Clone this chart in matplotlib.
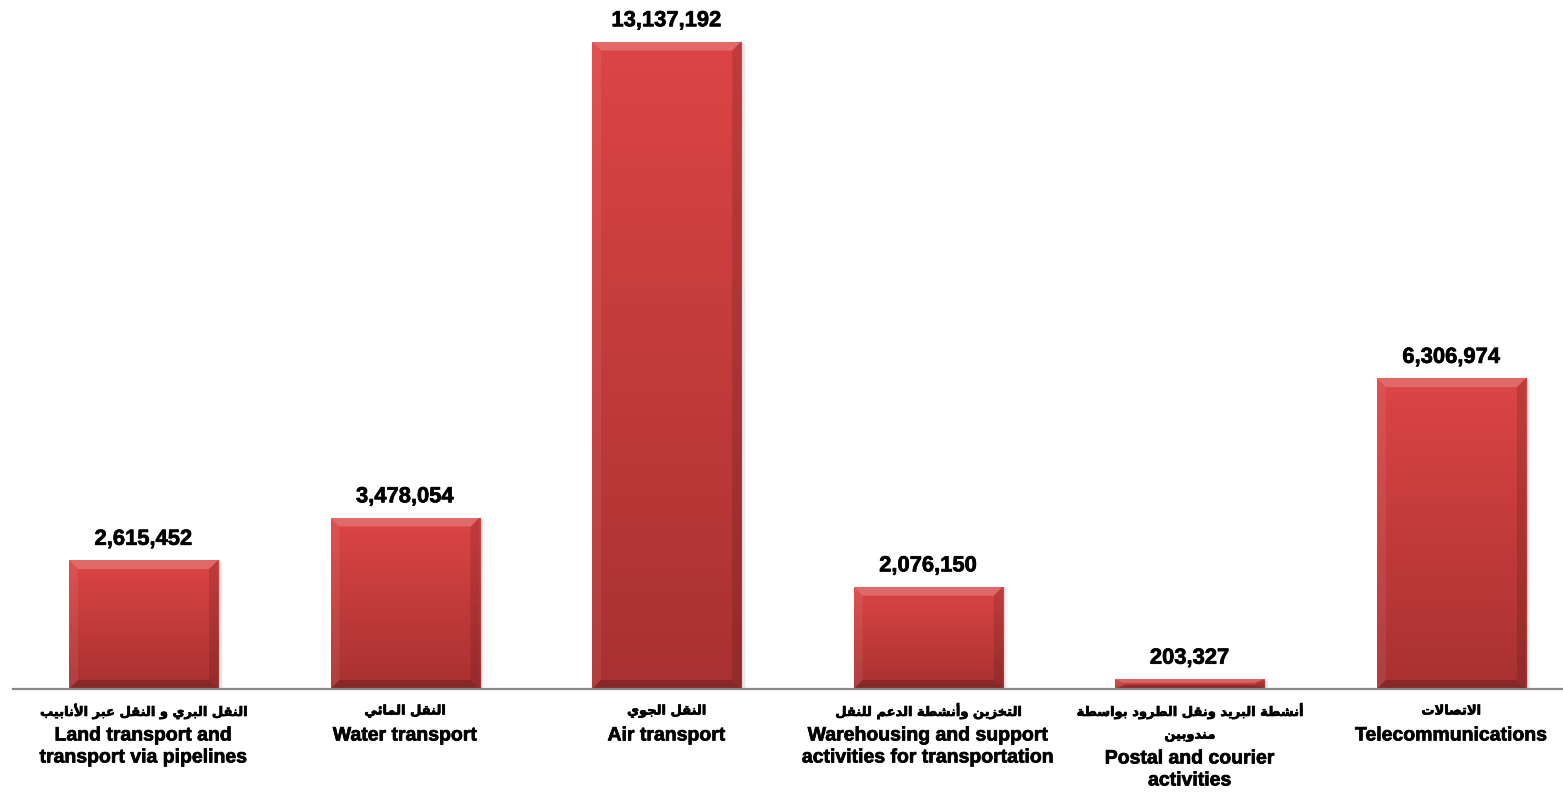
import numpy as np
import matplotlib
matplotlib.use("Agg")
import matplotlib.pyplot as plt
import matplotlib.patheffects as pe
from matplotlib.patches import Polygon, Rectangle
from matplotlib.colors import LinearSegmentedColormap

# ---------------- data ----------------
labels_ar = [
    ["النقل البري و النقل عبر الأنابيب"],
    ["النقل المائي"],
    ["النقل الجوي"],
    ["التخزين وأنشطة الدعم للنقل"],
    ["أنشطة البريد ونقل الطرود بواسطة", "مندوبين"],
    ["الاتصالات"],
]
labels_en = [
    ["Land transport and", "transport via pipelines"],
    ["Water transport"],
    ["Air transport"],
    ["Warehousing and support", "activities for transportation"],
    ["Postal and courier", "activities"],
    ["Telecommunications"],
]
values = [2615452, 3478054, 13137192, 2076150, 203327, 6306974]

# ---------------- minimal Arabic shaping (presentation forms, visual order) ----------------
_FORMS = {
    'ا': (0xFE8D, 2), 'أ': (0xFE83, 2), 'ب': (0xFE8F, 4), 'ة': (0xFE93, 2), 'ت': (0xFE95, 4),
    'ج': (0xFE9D, 4), 'خ': (0xFEA5, 4), 'د': (0xFEA9, 2), 'ر': (0xFEAD, 2), 'ز': (0xFEAF, 2),
    'س': (0xFEB1, 4), 'ش': (0xFEB5, 4), 'ص': (0xFEB9, 4), 'ط': (0xFEC1, 4), 'ع': (0xFEC9, 4),
    'ق': (0xFED5, 4), 'ل': (0xFEDD, 4), 'م': (0xFEE1, 4), 'ن': (0xFEE5, 4), 'و': (0xFEED, 2),
    'ي': (0xFEF1, 4), 'ئ': (0xFE89, 4),
}
_LAM_ALEF = {'ا': (0xFEFB, 0xFEFC), 'أ': (0xFEF7, 0xFEF8)}


def shape_ar(text):
    toks = []
    i = 0
    while i < len(text):
        c = text[i]
        if c == 'ل' and i + 1 < len(text) and text[i + 1] in _LAM_ALEF:
            toks.append(('LA', text[i + 1]))
            i += 2
        else:
            toks.append(('C', c))
            i += 1

    def joins_left(t):
        return t[0] == 'C' and t[1] in _FORMS and _FORMS[t[1]][1] == 4

    def is_ar(t):
        return t[0] == 'LA' or t[1] in _FORMS

    out = []
    for k, t in enumerate(toks):
        prev = toks[k - 1] if k > 0 else None
        nxt = toks[k + 1] if k + 1 < len(toks) else None
        jr = prev is not None and joins_left(prev) and is_ar(t)
        jl = nxt is not None and joins_left(t) and is_ar(nxt)
        if t[0] == 'LA':
            iso, fin = _LAM_ALEF[t[1]]
            out.append(chr(fin if jr else iso))
        elif t[1] in _FORMS:
            base, n = _FORMS[t[1]]
            if n == 2:
                out.append(chr(base + 1 if jr else base))
            else:
                if jr and jl:
                    out.append(chr(base + 3))
                elif jr:
                    out.append(chr(base + 1))
                elif jl:
                    out.append(chr(base + 2))
                else:
                    out.append(chr(base))
        else:
            out.append(t[1])
    return ''.join(reversed(out))


# ---------------- figure ----------------
W, H = 1563, 794
fig = plt.figure(figsize=(W / 100, H / 100), dpi=100)
ax_left_px = 12.7
base_px = 689  # from top
ax = fig.add_axes([ax_left_px / W, (H - base_px) / H, 1 - ax_left_px / W, base_px / H])
ymax = 13.98e6
ax.set_ylim(0, ymax)
ax.set_xlim(-0.5, 5.427)
ax.set_facecolor('white')
for s in ['top', 'left', 'right']:
    ax.spines[s].set_visible(False)
ax.spines['bottom'].set_color('#898989')
ax.spines['bottom'].set_linewidth(1.6)
ax.spines['bottom'].set_zorder(5)
ax.set_xticks([])
ax.set_yticks([])

x = np.arange(len(values))
bars = ax.bar(x, values, width=0.57, color='#C83C3C', zorder=3)

# pixel scales
ax_w_px = W * (1 - ax_left_px / W)
ax_h_px = base_px
px_x = ax_w_px / (5.427 + 0.5)
px_y = ax_h_px / ymax

cmap = LinearSegmentedColormap.from_list('barred', ['#A93131', '#C23B3B', '#DC4545'])
grad = np.linspace(0, 1, 256).reshape(-1, 1)
heavy = [pe.withStroke(linewidth=0.5, foreground='black')]

for b in bars:
    x0 = b.get_x()
    w = b.get_width()
    x1 = x0 + w
    h = b.get_height()
    # soft shadow
    for k, a in enumerate([0.10, 0.08, 0.05]):
        off = (2 + k * 1.5)
        sh = Rectangle((x0 + off / px_x, 0), w, h - off / px_y * 0.5, facecolor='#555555',
                       edgecolor='none', alpha=a, zorder=2)
        ax.add_patch(sh)
    im = ax.imshow(grad, cmap=cmap, origin='lower', extent=(x0, x1, 0, h), aspect='auto',
                   zorder=3.5, interpolation='bicubic')
    im.set_clip_path(b)
    bx = 9 / px_x
    by = min(9 / px_y, h * 0.4)
    top = Polygon([(x0, h), (x1, h), (x1 - bx, h - by), (x0 + bx, h - by)], closed=True,
                  facecolor='white', alpha=0.2, edgecolor='none', zorder=4)
    left = Polygon([(x0, 0), (x0, h), (x0 + bx, h - by), (x0 + bx, by)], closed=True,
                   facecolor='white', alpha=0.07, edgecolor='none', zorder=4)
    right = Polygon([(x1, 0), (x1, h), (x1 - bx, h - by), (x1 - bx, by)], closed=True,
                    facecolor='black', alpha=0.12, edgecolor='none', zorder=4)
    bottom = Polygon([(x0, 0), (x1, 0), (x1 - bx, by), (x0 + bx, by)], closed=True,
                     facecolor='black', alpha=0.2, edgecolor='none', zorder=4)
    for p in (top, left, right, bottom):
        ax.add_patch(p)
    ax.annotate(f"{int(h):,}", xy=(x0 + w / 2, h), xytext=(0, 11), textcoords='offset points',
                ha='center', va='baseline', fontsize=15.8, fontweight='bold',
                family=['Liberation Sans', 'DejaVu Sans'], color='black', zorder=6,
                path_effects=heavy)

# category labels
for i, (ar_lines, en_lines) in enumerate(zip(labels_ar, labels_en)):
    xf = ax.transData.transform((x[i], 0))[0] / W
    y = 711
    for line in ar_lines:
        fig.text(xf, 1 - y / H, shape_ar(line), ha='center', va='center', fontsize=9.4,
                 fontweight='bold', family=['DejaVu Sans'], color='black', path_effects=heavy)
        y += 24
    if len(ar_lines) == 1:
        y = 736
    for line in en_lines:
        fig.text(xf, 1 - y / H, line, ha='center', va='center', fontsize=14,
                 fontweight='bold', family=['Liberation Sans', 'DejaVu Sans'], color='black',
                 path_effects=heavy)
        y += 22

fig.savefig('out.png', dpi=100, facecolor='white')
